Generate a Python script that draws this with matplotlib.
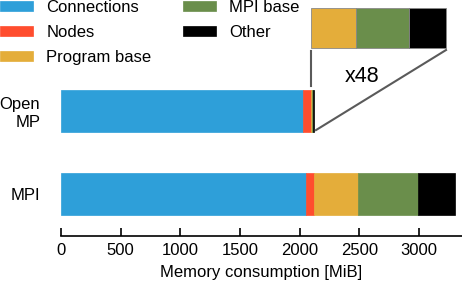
import numpy as np
import matplotlib
matplotlib.use('Agg')
import matplotlib.pyplot as plt

plt.rcParams['font.family'] = ['Liberation Sans', 'DejaVu Sans']

# categories and memory parts (MiB)
runs = ['MPI', 'Open\nMP']
parts = ['Connections', 'Nodes', 'Program base', 'MPI base', 'Other']
colors = ['#2E9FD9', '#FF4D2E', '#E4AD3A', '#6A8E4B', '#000000']
mpi_vals = [2054, 67, 368, 504, 310]
omp_vals = [2026, 72, 7.8, 9.3, 6.4]
zoom = 48

fig = plt.figure(figsize=(4.62, 2.85), dpi=100)
ax = fig.add_axes([61 / 462, (285 - 236) / 285, 401 / 462, 236 / 285])

ypos = [0, 1]
for i, vals in enumerate([mpi_vals, omp_vals]):
    left = 0
    for j, v in enumerate(vals):
        ax.barh(ypos[i], v, left=left, height=0.5, color=colors[j],
                edgecolor=colors[j], linewidth=0.5,
                label=parts[j] if i == 0 else None)
        left += v

# magnified inset of the small OpenMP parts
inset_left = omp_vals[0] + omp_vals[1]
left = inset_left
for j in range(2, 5):
    w = omp_vals[j] * zoom
    ax.barh(2, w, left=left, height=0.48, color=colors[j],
            edgecolor='#888888', linewidth=0.6, clip_on=False)
    left += w
inset_right = left
omp_total = sum(omp_vals)

# connector lines
ax.plot([inset_left, inset_left], [2 - 0.28, 1 + 0.3], color='#5a5a5a', lw=1.5)
ax.plot([inset_right, omp_total + 15], [2 - 0.27, 1 - 0.23], color='#5a5a5a', lw=1.5)
ax.text(inset_left + 0.38 * (inset_right - inset_left), 1.41, 'x' + str(zoom),
        fontsize=15.5, ha='center', va='center')

ax.set_xlim(0, 3360)
ax.set_ylim(-0.5, 2.33)
ax.set_yticks(ypos)
ax.set_yticklabels(runs, fontsize=12)
ax.set_xticks(np.arange(0, 3001, 500))
ax.tick_params(axis='x', direction='in', length=6, width=1.2, labelsize=12, pad=5)
ax.tick_params(axis='y', length=0, pad=15)
for s in ['top', 'right', 'left']:
    ax.spines[s].set_visible(False)
ax.spines['bottom'].set_linewidth(1.2)
ax.set_xlabel('Memory consumption [MiB]', fontsize=12, labelpad=5)

fig.legend(loc='upper left', bbox_to_anchor=(0, 1.0), ncol=2, frameon=False,
           fontsize=12, handlelength=2.0, handleheight=0.6, handletextpad=0.78,
           labelspacing=0.6, columnspacing=1.9, borderpad=0, borderaxespad=0)

plt.savefig('out.png', dpi=100)
